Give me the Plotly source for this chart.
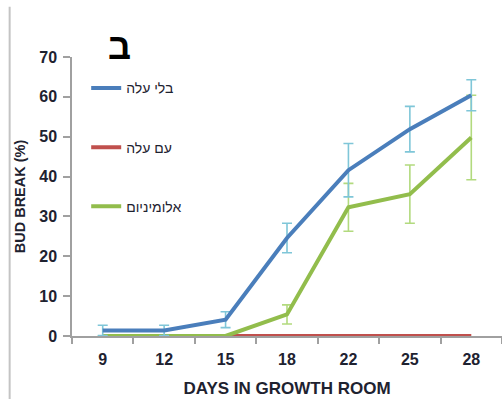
import plotly.graph_objects as go

# Days in the growth room (category axis)
days = ["9", "12", "15", "18", "22", "25", "28"]

# Bud break (%) per treatment
no_leaf = [1.4, 1.4, 4.1, 24.6, 41.6, 51.9, 60.4]
no_leaf_err = [1.3, 1.3, 2.0, 3.7, 6.7, 5.7, 3.9]

with_leaf = [0, 0, 0, 0, 0, 0, 0]

aluminium = [0, 0, 0, 5.4, 32.3, 35.6, 49.8]
aluminium_err = [0, 0, 0, 2.4, 6.0, 7.3, 10.6]

names = ["בלי עלה", "עם עלה", "אלומיניום"]
y_ticks = list(range(0, 71, 10))

BLUE = "#4a7ebb"
RED = "#c0504d"
GREEN = "#92bd4c"
TXT = "#1e2230"
AXIS = "#a0a0a0"
FONT = "Liberation Sans, Arial, sans-serif"

fig = go.Figure()

fig.add_trace(go.Scatter(
    x=days, y=with_leaf, name=names[1], mode="lines",
    line=dict(color=RED, width=4), legendrank=2, legendgroup="b",
))
fig.add_trace(go.Scatter(
    x=days, y=aluminium, name=names[2], mode="lines",
    line=dict(color=GREEN, width=4), legendrank=3, legendgroup="c",
    error_y=dict(type="data", array=aluminium_err, visible=True,
                 color="#b2da7e", thickness=1.6, width=5),
))
fig.add_trace(go.Scatter(
    x=days, y=no_leaf, name=names[0], mode="lines",
    line=dict(color=BLUE, width=4), legendrank=1, legendgroup="a",
    error_y=dict(type="data", array=no_leaf_err, visible=True,
                 color="#7fc6d8", thickness=1.6, width=5),
))

fig.update_layout(
    width=502, height=399,
    margin=dict(l=72, r=0, t=57, b=63),
    paper_bgcolor="white", plot_bgcolor="white",
    font=dict(family=FONT, color=TXT),
    showlegend=True,
    legend=dict(
        x=0.033, y=0.945, xanchor="left", yanchor="top",
        bgcolor="rgba(0,0,0,0)", tracegroupgap=38,
        font=dict(size=14, color=TXT, family=FONT),
    ),
    xaxis=dict(
        type="category", range=[-0.5, 6.5],
        showline=True, linecolor=AXIS, linewidth=1.5,
        ticks="outside", tickson="boundaries", ticklen=6,
        tickcolor=AXIS, tickwidth=1.5,
        showgrid=False, zeroline=False,
        tickvals=days, ticktext=[f"<b>{d}</b>" for d in days],
        ticklabelstandoff=8,
        tickfont=dict(size=16, color=TXT, family=FONT),
        title=dict(text="<b>DAYS IN GROWTH ROOM</b>", standoff=15,
                   font=dict(size=17, color=TXT, family=FONT)),
    ),
    yaxis=dict(
        range=[0, 70],
        showline=True, linecolor=AXIS, linewidth=1.5,
        ticks="outside", ticklen=7, tickcolor=AXIS, tickwidth=1.5,
        showgrid=False, zeroline=False,
        tickvals=y_ticks, ticktext=[f"<b>{v}</b>" for v in y_ticks],
        ticklabelstandoff=3,
        tickfont=dict(size=16, color=TXT, family=FONT),
        title=dict(text="<b>BUD BREAK (%)</b>", standoff=10,
                   font=dict(size=14.5, color=TXT, family=FONT)),
    ),
    annotations=[dict(
        text="<b>ב</b>", x=0.078, y=1.118, xref="paper", yref="paper",
        showarrow=False, font=dict(size=36, color="black",
                                    family="Liberation Sans, DejaVu Sans, Arial"),
    )],
    shapes=[dict(
        type="line", xref="paper", yref="paper",
        x0=-0.145, x1=-0.145, y0=1.18, y1=-0.3,
        line=dict(color="#c4c4c4", width=2),
    )],
)

fig.write_html("out.html")
